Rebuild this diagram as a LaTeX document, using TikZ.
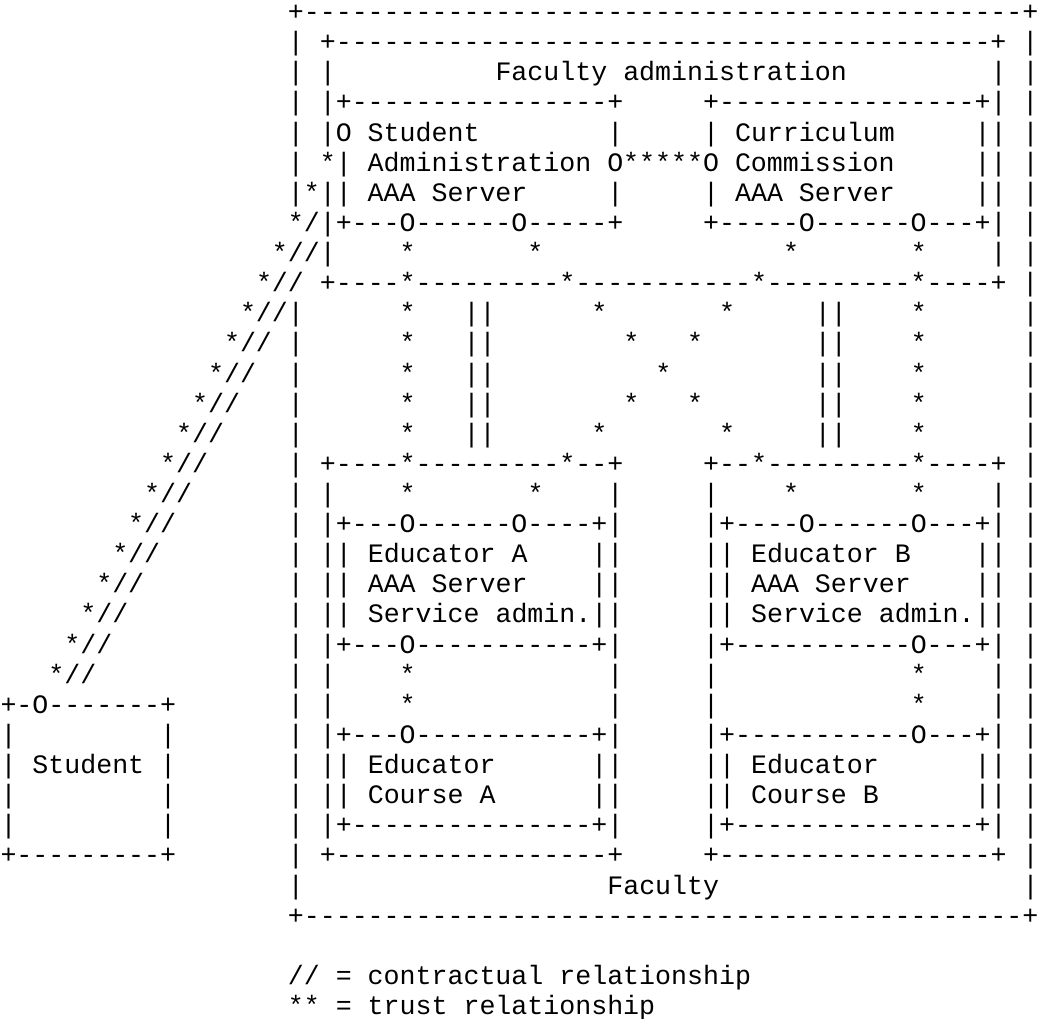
\documentclass[tikz,border=0pt]{standalone}
\usepackage{fontspec}
\setmonofont{Liberation Mono}
\usepackage{tikz}
\tikzset{every picture/.style={line width=0.75pt}}
\tikzset{asc/.style={anchor=base west,inner sep=0pt,outer sep=0pt,font=\ttfamily\fontsize{19.96pt}{24pt}\selectfont,execute at begin node=\obeyspaces}}

\begin{document}
\begin{tikzpicture}[x=0.75pt,y=0.75pt,yscale=-1,xscale=1]
%set diagram left start at 0, and has height of 1019
\useasboundingbox (0,0) rectangle (1039,1019);

% Text Node
\draw (287.9,20.6) node [asc] (row0) {+---------------------------------------------+};
% Text Node
\draw (287.9,50.72) node [asc] (row1) {| +-----------------------------------------+ |};
% Text Node
\draw (287.9,80.84) node [asc] (row2) {| |          Faculty administration         | |};
% Text Node
\draw (287.9,110.96) node [asc] (row3) {| |+----------------+     +----------------+| |};
% Text Node
\draw (287.9,141.08) node [asc] (row4) {| |O Student        |     | Curriculum     || |};
% Text Node
\draw (287.9,171.2) node [asc] (row5) {| *| Administration O*****O Commission     || |};
% Text Node
\draw (287.9,201.32) node [asc] (row6) {|*|| AAA Server     |     | AAA Server     || |};
% Text Node
\draw (287.9,231.44) node [asc] (row7) {*/|+---O------O-----+     +-----O------O---+| |};
% Text Node
\draw (271.96,261.56) node [asc] (row8) {*//|    *       *               *       *    | |};
% Text Node
\draw (256,291.68) node [asc] (row9) {*// +----*---------*-----------*---------*----+ |};
% Text Node
\draw (240,321.8) node [asc] (row10) {*//|      *   ||      *       *     ||    *      |};
% Text Node
\draw (224.05,351.92) node [asc] (row11) {*// |      *   ||        *   *       ||    *      |};
% Text Node
\draw (208.08,382.04) node [asc] (row12) {*//  |      *   ||          *         ||    *      |};
% Text Node
\draw (192.12,412.16) node [asc] (row13) {*//   |      *   ||        *   *       ||    *      |};
% Text Node
\draw (176.15,442.28) node [asc] (row14) {*//    |      *   ||      *       *     ||    *      |};
% Text Node
\draw (160.18,472.4) node [asc] (row15) {*//     | +----*---------*--+     +--*---------*----+ |};
% Text Node
\draw (144.21,502.52) node [asc] (row16) {*//      | |    *       *    |     |    *       *    | |};
% Text Node
\draw (128.24,532.64) node [asc] (row17) {*//       | |+---O------O----+|     |+----O------O---+| |};
% Text Node
\draw (112.28,562.76) node [asc] (row18) {*//        | || Educator A    ||     || Educator B    || |};
% Text Node
\draw (96.31,592.88) node [asc] (row19) {*//         | || AAA Server    ||     || AAA Server    || |};
% Text Node
\draw (80.34,623) node [asc] (row20) {*//          | || Service admin.||     || Service admin.|| |};
% Text Node
\draw (64.37,653.12) node [asc] (row21) {*//           | |+---O-----------+|     |+-----------O---+| |};
% Text Node
\draw (48.4,683.24) node [asc] (row22) {*//            | |    *            |     |            *    | |};
% Text Node
\draw (0.5,713.36) node [asc] (row23) {+-O-------+       | |    *            |     |            *    | |};
% Text Node
\draw (0.5,743.48) node [asc] (row24) {|         |       | |+---O-----------+|     |+-----------O---+| |};
% Text Node
\draw (0.5,773.6) node [asc] (row25) {| Student |       | || Educator      ||     || Educator      || |};
% Text Node
\draw (0.5,803.72) node [asc] (row26) {|         |       | || Course A      ||     || Course B      || |};
% Text Node
\draw (0.5,833.84) node [asc] (row27) {|         |       | |+---------------+|     |+---------------+| |};
% Text Node
\draw (0.5,863.96) node [asc] (row28) {+---------+       | +-----------------+     +-----------------+ |};
% Text Node
\draw (287.9,894.08) node [asc] (row29) {|                   Faculty                   |};
% Text Node
\draw (287.9,924.2) node [asc] (row30) {+---------------------------------------------+};
% Text Node
\draw (287.9,984.44) node [asc] (row32) {// = contractual relationship};
% Text Node
\draw (287.9,1014.56) node [asc] (row33) {** = trust relationship};

\end{tikzpicture}
\end{document}
